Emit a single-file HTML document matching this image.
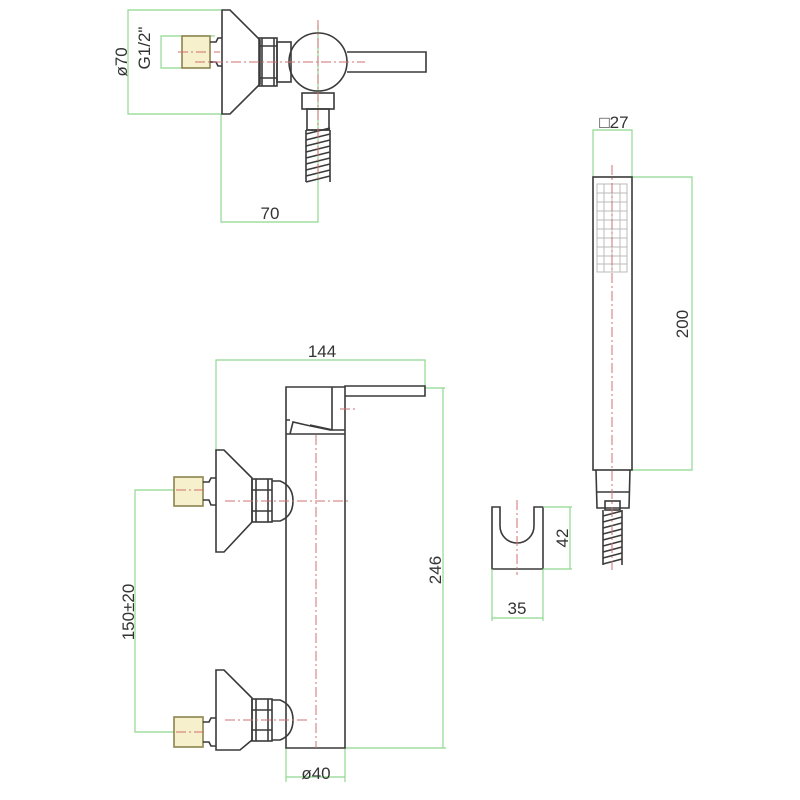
<!DOCTYPE html>
<html><head><meta charset="utf-8"><style>
html,body{margin:0;padding:0;background:#fff}
svg{display:block}
text{font-family:"Liberation Sans",sans-serif;font-size:17px;fill:#333}
.l{fill:none;stroke:#3a3a3a;stroke-width:1.6}
.g{fill:none;stroke:#8fd88f;stroke-width:1.2}
.r{fill:none;stroke:#d07070;stroke-width:1;stroke-dasharray:10 3 2 3}
.y{fill:#f6f0cc;stroke:#8a8450;stroke-width:1.6}
</style></head><body>
<svg width="800" height="800" viewBox="0 0 800 800" xmlns="http://www.w3.org/2000/svg">
<!-- TOP VIEW -->
<path class="g" d="M221,10 H128 V114 H221 M215,36 H161 V68 H182 M221,114 V222 H318 V25"/>
<text x="270" y="219" text-anchor="middle">70</text>
<text transform="translate(127,62) rotate(-90)" text-anchor="middle">ø70</text>
<text transform="translate(150,48) rotate(-90)" text-anchor="middle">G1/2"</text>
<rect class="y" x="182" y="36" width="28" height="32"/>
<path class="l" d="M210,42 H216 L218,38 H222 M210,62 H216 L218,66 H222"/>
<path class="l" d="M222,10 H230 L260,40 V84 L230,114 H222 Z"/>
<rect class="l" x="259" y="38" width="18" height="48"/>
<path class="l" d="M259,46 H277 M259,78 H277 M262,38 V86 M274,38 V86"/>
<rect class="l" x="277" y="42" width="14" height="40"/>
<circle class="l" cx="318" cy="62" r="29" fill="#fff"/>
<path class="l" d="M347,52 H426 V72 H347"/>
<rect class="l" x="302" y="93" width="32" height="16"/>
<rect class="l" x="307" y="109" width="22" height="21"/>
<g class="l">
<path d="M306,130 H330 M306,130 V182 M330,130 V182"/>
<path d="M306,134 L330,128 M306,140 L330,134 M306,146 L330,140 M306,152 L330,146 M306,158 L330,152 M306,164 L330,158 M306,170 L330,164 M306,176 L330,170 M306,182 L330,176"/>
</g>
<path class="r" d="M195,62 H365 M318,20 V182 M178,52 H220"/>

<!-- FRONT VIEW -->
<path class="g" d="M216,450 V360 H425 V388 M425,388 H445 M443,388 V748 M345,748 H446 M286,748 V782 M345,748 V782 M286,777 H345 M175,490 H135 V732 H175"/>
<text x="322" y="357" text-anchor="middle">144</text>
<text transform="translate(441,570) rotate(-90)" text-anchor="middle">246</text>
<text transform="translate(134,612) rotate(-90)" text-anchor="middle">150±20</text>
<text x="316" y="779" text-anchor="middle">ø40</text>
<path class="l" d="M286,434 V748 H345 V386 H425 V396 H345 M286,434 V387 H345 M290,434 L293,422 L306,425 L330,430 H345 M290,420 L286,420 M345,434 H286"/>
<path class="l" d="M332,387 V430 M310,425 L333,430"/>
<!-- upper valve -->
<rect class="y" x="174" y="477" width="29" height="29"/>
<path class="l" d="M203,482 H209 L211,478 H216 M203,500 H209 L211,505 H216"/>
<path class="l" d="M216,450 H224 L252,478 V522 L224,552 H216 Z"/>
<rect class="l" x="252" y="479" width="20" height="43"/>
<path class="l" d="M256,479 V522 M268,479 V522 M252,490 H272 M252,511 H272"/>
<path class="l" d="M272,481 H280 Q293,486 293,501 Q293,516 280,521 H272"/>
<!-- lower valve -->
<rect class="y" x="174" y="717" width="29" height="30"/>
<path class="l" d="M203,722 H209 L211,718 H216 M203,742 H209 L211,746 H216"/>
<path class="l" d="M216,670 H224 L252,698 V740 L240,750 H216 Z"/>
<rect class="l" x="252" y="699" width="20" height="42"/>
<path class="l" d="M256,699 V741 M268,699 V741 M252,710 H272 M252,730 H272"/>
<path class="l" d="M272,700 H280 Q293,705 293,720 Q293,735 280,740 H272"/>
<path class="r" d="M225,501 H348 M316,435 V748 M225,720 H310 M176,490 H205 M176,732 H205 M340,409 H355"/>

<!-- HAND SHOWER -->
<path class="g" d="M593,177 V130 H632 V177 M632,177 H692 V470 H632"/>
<text x="614" y="128" text-anchor="middle">□27</text>
<text transform="translate(688,324) rotate(-90)" text-anchor="middle">200</text>
<rect class="l" x="593" y="177" width="39" height="293"/>
<g fill="none" stroke="#bbb" stroke-width="1">
<rect x="597" y="184" width="30" height="88"/>
<path d="M597,193 H627 M597,202 H627 M597,211 H627 M597,220 H627 M597,229 H627 M597,238 H627 M597,247 H627 M597,256 H627 M597,264 H627 M604,184 V272 M612,184 V272 M620,184 V272"/>
</g>
<path class="l" d="M596,470 L597,508 H629 L630,470 M597,492 H629"/>
<rect class="l" x="605" y="501" width="15" height="9"/>
<g class="l">
<path d="M603,510 V565 M622,510 V565"/>
<path d="M603,516 L622,511 M603,522 L622,517 M603,528 L622,523 M603,534 L622,529 M603,540 L622,535 M603,546 L622,541 M603,552 L622,547 M603,558 L622,553 M603,564 L622,559"/>
</g>
<path class="r" d="M612,165 V570"/>
<!-- holder -->
<path class="l" d="M492,507 H500 V526 A17,17 0 0 0 534,526 V507 H543 V569 H492 Z"/>
<path class="r" d="M517,500 V575"/>
<path class="g" d="M543,507 H572 M543,569 H572 M570,507 V569 M492,569 V621 M543,569 V621 M492,618 H543"/>
<text transform="translate(568,538) rotate(-90)" text-anchor="middle">42</text>
<text x="517" y="614" text-anchor="middle">35</text>
</svg>
</body></html>
